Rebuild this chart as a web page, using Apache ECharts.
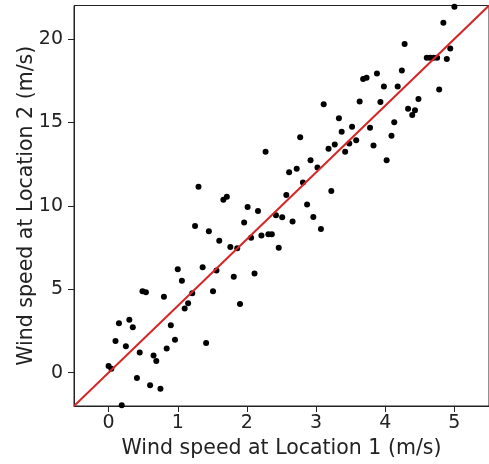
<!DOCTYPE html>
<html>
<head>
<meta charset="utf-8">
<script src="https://cdn.jsdelivr.net/npm/echarts@6/dist/echarts.min.js"></script>
<style>
  html, body { margin: 0; padding: 0; background: #fff; }
  #chart { width: 489px; height: 464px; }
</style>
</head>
<body>
<div id="chart"></div>
<script>
// Paired wind speed observations (m/s)
const location1 = [
  0.00, 0.04, 0.19, 0.10, 0.15, 0.30, 0.35, 0.25, 0.41, 0.45,
  0.49, 0.54, 0.60, 0.65, 0.69, 0.75, 0.80, 0.84, 0.90, 0.96,
  1.00, 1.06, 1.10, 1.15, 1.21, 1.25, 1.30, 1.36, 1.41, 1.45,
  1.51, 1.56, 1.60, 1.66, 1.71, 1.76, 1.81, 1.86, 1.90, 1.96,
  2.01, 2.06, 2.11, 2.16, 2.21, 2.27, 2.31, 2.36, 2.42, 2.46,
  2.51, 2.57, 2.61, 2.66, 2.72, 2.77, 2.81, 2.87, 2.92, 2.96,
  3.02, 3.07, 3.11, 3.18, 3.22, 3.27, 3.33, 3.37, 3.42, 3.48,
  3.52, 3.58, 3.63, 3.68, 3.73, 3.78, 3.83, 3.88, 3.93, 3.98,
  4.02, 4.09, 4.13, 4.18, 4.24, 4.28, 4.33, 4.39, 4.43, 4.48,
  4.60, 4.65, 4.70, 4.75, 4.78, 4.84, 4.89, 4.94, 5.00
];
const location2 = [
  0.39, 0.23, -1.95, 1.90, 2.96, 3.17, 2.72, 1.58, -0.32, 1.20,
  4.87, 4.81, -0.75, 1.02, 0.69, -0.96, 4.55, 1.45, 2.84, 1.97,
  6.20, 5.50, 3.85, 4.16, 4.75, 8.79, 11.14, 6.32, 1.78, 8.47,
  4.87, 6.12, 7.90, 10.36, 10.54, 7.53, 5.75, 7.46, 4.11, 8.99,
  9.93, 8.08, 5.94, 9.68, 8.22, 13.23, 8.29, 8.29, 9.43, 7.49,
  9.31, 10.64, 12.01, 9.05, 12.22, 14.10, 11.40, 10.07, 12.73, 9.32,
  12.29, 8.61, 16.08, 13.41, 10.88, 13.67, 15.24, 14.43, 13.23, 13.73,
  14.74, 13.92, 16.25, 17.59, 17.67, 14.68, 13.61, 17.93, 16.22, 17.15,
  12.72, 14.19, 15.00, 17.15, 18.11, 19.70, 15.82, 15.44, 15.72, 16.40,
  18.87, 18.87, 18.87, 18.87, 16.97, 20.96, 18.79, 19.42, 21.93
];

// Reference line y = 4x across the visible range
const refLineX = [-0.5, 5.5];
const refLineY = [-2, 22];

const xTicks = [0, 1, 2, 3, 4, 5];
const yTicks = [0, 5, 10, 15, 20];

const points = location1.map((x, i) => [x, location2[i]]);
const refLine = refLineX.map((x, i) => [x, refLineY[i]]);

const font = 'DejaVu Sans';
const chart = echarts.init(document.getElementById('chart'), null, { renderer: 'canvas' });

chart.setOption({
  animation: false,
  backgroundColor: '#ffffff',
  grid: {
    left: 74, top: 5.5, width: 420, height: 402,
    show: true, borderColor: '#222', borderWidth: 1, backgroundColor: 'transparent'
  },
  xAxis: {
    type: 'value', min: -0.5, max: 5.5,
    splitLine: { show: false },
    axisLine: { onZero: false, lineStyle: { color: '#222', width: 1 } },
    axisTick: { show: true, length: 6, lineStyle: { color: '#222' }, customValues: xTicks },
    axisLabel: { color: '#222', fontFamily: font, fontSize: 19, margin: 8, customValues: xTicks },
    name: 'Wind speed at Location 1 (m/s)',
    nameLocation: 'middle', nameGap: 32,
    nameTextStyle: { color: '#222', fontFamily: font, fontSize: 20.5 }
  },
  yAxis: {
    type: 'value', min: -2, max: 22,
    splitLine: { show: false },
    axisLine: { onZero: false, lineStyle: { color: '#222', width: 1 } },
    axisTick: { show: true, length: 6, lineStyle: { color: '#222' }, customValues: yTicks },
    axisLabel: { color: '#222', fontFamily: font, fontSize: 19, margin: 11, customValues: yTicks },
    name: 'Wind speed at Location 2 (m/s)',
    nameLocation: 'middle', nameGap: 37, nameMoveOverlap: false,
    nameTextStyle: { color: '#222', fontFamily: font, fontSize: 20.5 }
  },
  series: [
    {
      type: 'scatter',
      data: points,
      symbol: 'circle',
      symbolSize: 6,
      itemStyle: { color: '#000', opacity: 1 },
      z: 2
    },
    {
      type: 'line',
      data: refLine,
      showSymbol: false,
      lineStyle: { color: '#d62728', width: 2 },
      z: 3
    }
  ]
});
</script>
</body>
</html>
